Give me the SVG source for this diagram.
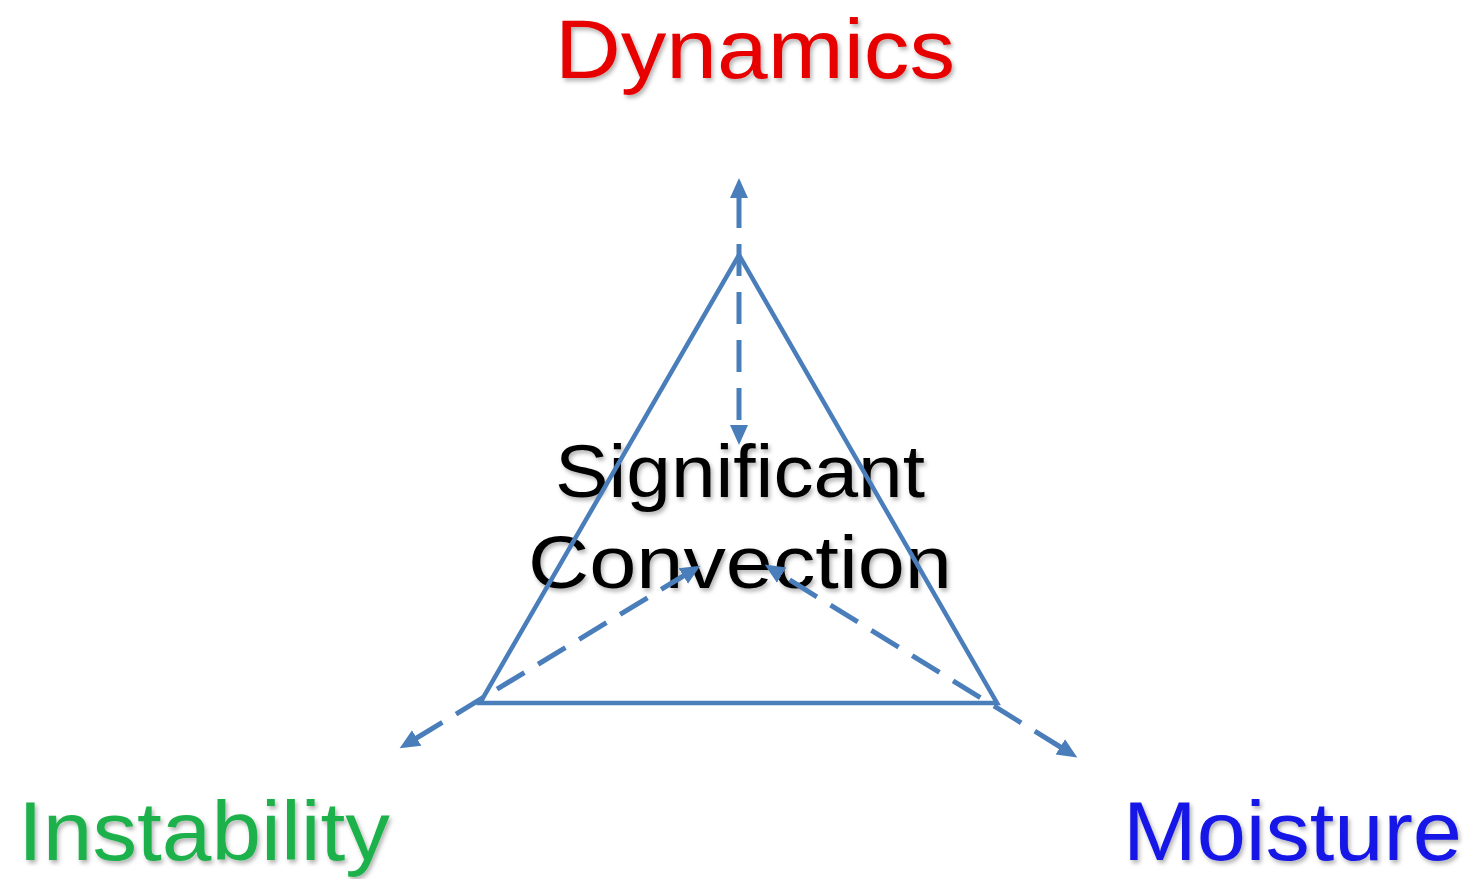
<svg xmlns="http://www.w3.org/2000/svg" width="1471" height="879" viewBox="0 0 1471 879">
  <style>
    .lbl { font-family: "Liberation Sans", Arial, sans-serif; font-size: 84px; }
    .ctr { font-family: "Liberation Sans", Arial, sans-serif; font-size: 75px; fill: #000; }
    .edge { fill: none; stroke: #4A7EBB; stroke-width: 4.5; }
    .dash { fill: none; stroke: #4A7EBB; stroke-width: 5; stroke-dasharray: 32 16; }
  </style>
  <defs>
    <filter id="shadow" x="-10%" y="-20%" width="120%" height="150%">
      <feDropShadow dx="2" dy="3" stdDeviation="2" flood-color="#000" flood-opacity="0.3"/>
    </filter>
    <marker id="arrow" markerUnits="userSpaceOnUse" markerWidth="22" markerHeight="20" refX="2" refY="10" orient="auto-start-reverse" viewBox="0 0 22 20">
      <path d="M0,1 L20,10 L0,19 z" fill="#4A7EBB"/>
    </marker>
  </defs>
  <rect width="1471" height="879" fill="#fff"/>

  <g id="node-significant-convection" filter="url(#shadow)">
    <text class="ctr" x="555" y="497" textLength="370" lengthAdjust="spacingAndGlyphs">Significant</text>
    <text class="ctr" x="528" y="588" textLength="424" lengthAdjust="spacingAndGlyphs">Convection</text>
  </g>

  <g id="node-triangle">
    <polygon class="edge" points="739,255 480,703 997,703" stroke-linejoin="miter"/>
  </g>

  <g id="connectors">
    <path class="dash" d="M739,196 L739,427" marker-start="url(#arrow)" marker-end="url(#arrow)"/>
    <path class="dash" d="M415,739 L685,575" marker-start="url(#arrow)" marker-end="url(#arrow)"/>
    <path class="dash" d="M1062,748 L780,574" marker-start="url(#arrow)" marker-end="url(#arrow)"/>
  </g>

  <g id="node-dynamics" filter="url(#shadow)">
    <text class="lbl" x="555" y="78" fill="#E60000" textLength="400" lengthAdjust="spacingAndGlyphs">Dynamics</text>
  </g>
  <g id="node-instability" filter="url(#shadow)">
    <text class="lbl" x="18" y="860" fill="#1DB14B" textLength="372" lengthAdjust="spacingAndGlyphs">Instability</text>
  </g>
  <g id="node-moisture" filter="url(#shadow)">
    <text class="lbl" x="1123" y="860" fill="#1414E6" textLength="339" lengthAdjust="spacingAndGlyphs">Moisture</text>
  </g>
</svg>
